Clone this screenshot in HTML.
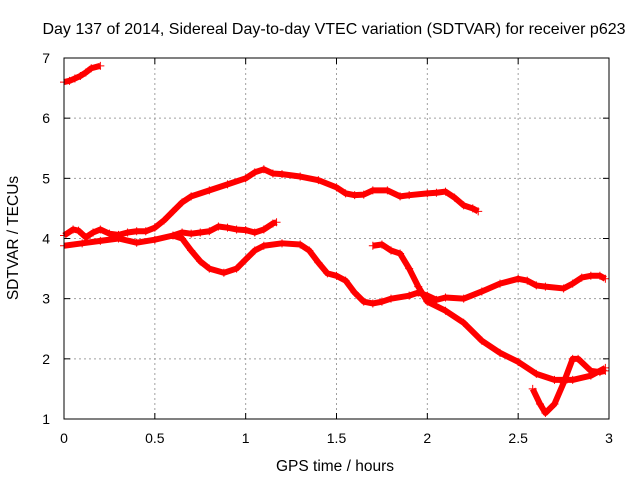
<!DOCTYPE html>
<html><head><meta charset="utf-8"><style>
body{margin:0;background:#fff;}
svg text{font-family:"Liberation Sans",sans-serif;font-size:14px;fill:#000;}
svg text.big{font-size:16px;}
svg text.ax{font-size:15.5px;}
</style></head><body>
<svg width="640" height="480" id="c">
<text class="big" x="334" y="34" text-anchor="middle">Day 137 of 2014, Sidereal Day-to-day VTEC variation (SDTVAR) for receiver p623</text>
<text class="ax" x="335" y="471" text-anchor="middle">GPS time / hours</text>
<text class="ax" transform="translate(18,238) rotate(-90)" text-anchor="middle">SDTVAR / TECUs</text>
<g id="grid"></g><g id="series"></g>
<rect x="64" y="58" width="545" height="361" fill="none" stroke="#000" stroke-width="1"/>
</svg>
<script>
const xTicks=[0,0.5,1,1.5,2,2.5,3];
const xTickLabels=["0","0.5","1","1.5","2","2.5","3"];
const yTicks=[1,2,3,4,5,6,7];
const yTickLabels=["1","2","3","4","5","6","7"];
const seriesA=[[0,6.6],[0.03,6.62],[0.06,6.66],[0.09,6.7],[0.12,6.76],[0.15,6.83],[0.2,6.87]];
const seriesB=[[0,4.05],[0.05,4.15],[0.08,4.13],[0.12,4.02],[0.16,4.1],[0.2,4.15],[0.25,4.08],[0.3,4.06],[0.35,4.1],[0.4,4.12],[0.45,4.12],[0.5,4.18],[0.55,4.3],[0.6,4.45],[0.65,4.6],[0.7,4.7],[0.8,4.8],[0.9,4.9],[1.0,5.0],[1.05,5.1],[1.1,5.15],[1.15,5.08],[1.2,5.07],[1.3,5.03],[1.4,4.97],[1.5,4.85],[1.55,4.75],[1.6,4.72],[1.65,4.73],[1.7,4.8],[1.78,4.8],[1.85,4.7],[1.9,4.72],[2.0,4.75],[2.05,4.76],[2.1,4.78],[2.15,4.68],[2.2,4.55],[2.25,4.5],[2.28,4.45]];
const seriesC=[[0,3.88],[0.1,3.92],[0.2,3.96],[0.3,4.0],[0.4,3.93],[0.5,3.98],[0.6,4.05],[0.65,4.0],[0.7,3.8],[0.75,3.62],[0.8,3.5],[0.88,3.43],[0.95,3.5],[1.0,3.65],[1.05,3.8],[1.1,3.88],[1.2,3.92],[1.3,3.9],[1.35,3.8],[1.4,3.6],[1.45,3.42],[1.5,3.38],[1.55,3.3],[1.6,3.1],[1.65,2.95],[1.7,2.92],[1.75,2.95],[1.8,3.0],[1.9,3.05],[1.95,3.1],[2.0,3.05],[2.05,2.98],[2.1,3.02],[2.2,3.0],[2.3,3.12],[2.4,3.25],[2.5,3.33],[2.55,3.3],[2.6,3.22],[2.65,3.2],[2.75,3.17],[2.8,3.25],[2.85,3.35],[2.9,3.38],[2.95,3.38],[2.98,3.33]];
const seriesD=[[0.6,4.05],[0.65,4.1],[0.7,4.08],[0.75,4.1],[0.8,4.12],[0.85,4.2],[0.9,4.18],[0.95,4.15],[1.0,4.14],[1.05,4.1],[1.1,4.15],[1.15,4.25],[1.17,4.27]];
const seriesE=[[1.7,3.88],[1.75,3.9],[1.8,3.8],[1.85,3.75],[1.9,3.5],[1.95,3.2],[2.0,2.95],[2.1,2.8],[2.2,2.6],[2.3,2.3],[2.4,2.1],[2.5,1.95],[2.6,1.75],[2.7,1.65],[2.8,1.65],[2.9,1.72],[2.98,1.85]];
const seriesF=[[2.58,1.5],[2.62,1.25],[2.65,1.1],[2.7,1.25],[2.75,1.6],[2.8,2.0],[2.83,2.0],[2.9,1.8],[2.95,1.78],[2.98,1.8]];
const allSeries=[seriesA,seriesB,seriesC,seriesD,seriesE,seriesF];
const X0=64,X1=609,Y0=419,Y1=58;
const xs=v=>X0+(v-0)/(3-0)*(X1-X0);
const ys=v=>Y0-(v-1)/(7-1)*(Y0-Y1);
const NS="http://www.w3.org/2000/svg";
const svg=document.getElementById('c'),grid=document.getElementById('grid'),ser=document.getElementById('series');
function mk(t,a,p){const e=document.createElementNS(NS,t);for(const k in a)e.setAttribute(k,a[k]);p.appendChild(e);return e;}
xTicks.forEach((t,i)=>{const x=xs(t);
 if(i>0&&i<xTicks.length-1){const g=mk('line',{x1:x,x2:x,y1:Y1,y2:Y0,stroke:'#a0a0a0','stroke-dasharray':'2,3'},grid);
 
 }
 mk('line',{x1:x,x2:x,y1:Y0,y2:Y0-6,stroke:'#000'},grid);mk('line',{x1:x,x2:x,y1:Y1,y2:Y1+6,stroke:'#000'},grid);
 const l=mk('text',{x:x,y:443,'text-anchor':'middle'},grid);l.textContent=xTickLabels[i];
 
 });
yTicks.forEach((t,i)=>{const y=ys(t);
 if(i>0&&i<yTicks.length-1){const g=mk('line',{x1:X0,x2:X1,y1:y,y2:y,stroke:'#a0a0a0','stroke-dasharray':'2,3'},grid);
 
 }
 mk('line',{x1:X0,x2:X0+6,y1:y,y2:y,stroke:'#000'},grid);mk('line',{x1:X1,x2:X1-6,y1:y,y2:y,stroke:'#000'},grid);
 const l=mk('text',{x:50,y:y+5,'text-anchor':'end'},grid);l.textContent=yTickLabels[i];
 
 });
allSeries.forEach((s,si)=>{
 const g=mk('g',{},ser);
 
 
 mk('polyline',{points:s.map(p=>xs(p[0])+','+ys(p[1])).join(' '),fill:'none',stroke:'#f00','stroke-width':6,'stroke-linejoin':'round'},g);
 s.forEach(p=>{const x=xs(p[0]),y=ys(p[1]);
  const m=mk('path',{d:`M${x-4},${y}h8M${x},${y-4}v8`,stroke:'#f00','stroke-width':1},g);
  
  });
});
</script>
</body></html>
